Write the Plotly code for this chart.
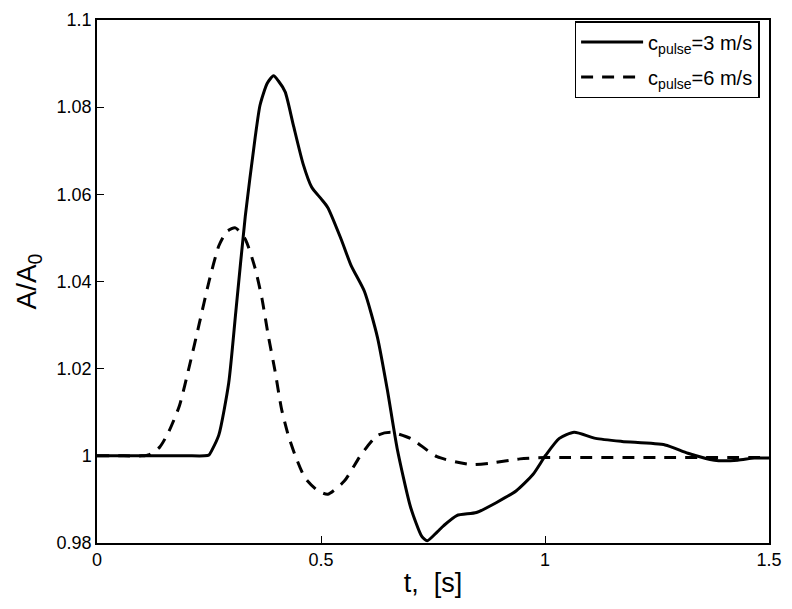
import plotly.graph_objects as go

t_solid = [0, 0.1, 0.2, 0.24, 0.25, 0.256, 0.272, 0.294, 0.31, 0.331, 0.353, 0.364, 0.38, 0.394, 0.405, 0.42, 0.438,
           0.46, 0.479, 0.5, 0.515, 0.545, 0.567, 0.597, 0.626, 0.648, 0.67, 0.7, 0.725, 0.737,
           0.759, 0.774, 0.803, 0.847, 0.892, 0.936, 0.973, 1.002, 1.032, 1.065, 1.113, 1.172,
           1.268, 1.319, 1.378, 1.43, 1.467, 1.5]
a_solid = [1.0, 1.0, 1.0, 1.0, 1.0002, 1.0012, 1.0048, 1.0167, 1.0332, 1.055, 1.073, 1.0805, 1.0855, 1.0872, 1.086,
           1.0835, 1.076, 1.067, 1.0617, 1.059, 1.057, 1.0497, 1.0437, 1.0377, 1.0272, 1.0152,
           1.0017, 0.9882, 0.9815, 0.9805, 0.9825, 0.984, 0.9863, 0.987, 0.9893, 0.992, 0.9957,
           1.0002, 1.004, 1.0054, 1.004, 1.0033, 1.0025, 1.0006, 0.999, 0.999, 0.9995, 0.9995]

t_dashed = [0, 0.06, 0.1, 0.117, 0.14, 0.16, 0.184, 0.206, 0.228, 0.25, 0.272, 0.29, 0.309, 0.331, 0.353,
            0.368, 0.383, 0.397, 0.412, 0.427, 0.442, 0.464, 0.493, 0.515, 0.552, 0.589, 0.626,
            0.656, 0.7, 0.759, 0.833, 0.877, 0.944, 1.0, 1.25, 1.5]
a_dashed = [1.0, 1.0, 1.0, 1.0003, 1.002, 1.0055, 1.0115, 1.0205, 1.0302, 1.04, 1.0482, 1.0515, 1.0523, 1.0497,
            1.043, 1.0362, 1.0272, 1.0197, 1.0107, 1.0047, 1.0002, 0.995, 0.992, 0.9912, 0.9942,
            1.0002, 1.0047, 1.0054, 1.004, 0.9998, 0.998, 0.9983, 0.9993, 0.9996, 0.9996, 0.9996]

x_ticks = [0, 0.5, 1, 1.5]
x_labels = ["0", "0.5", "1", "1.5"]
y_ticks = [0.98, 1.0, 1.02, 1.04, 1.06, 1.08, 1.1]
y_labels = ["0.98", "1", "1.02", "1.04", "1.06", "1.08", "1.1"]
names = ["c<sub>pulse</sub>=3 m/s", "c<sub>pulse</sub>=6 m/s"]

font = "Liberation Sans, Arial, Helvetica, sans-serif"

fig = go.Figure()
fig.add_trace(go.Scatter(x=t_solid, y=a_solid, mode="lines", name=names[0], legendgroup="a",
                         line=dict(color="black", width=3, shape="spline", smoothing=0.6)))
fig.add_trace(go.Scatter(x=t_dashed, y=a_dashed, mode="lines", name=names[1], legendgroup="b",
                         line=dict(color="black", width=3, dash="12px,9px", shape="spline", smoothing=0.6)))

axis_common = dict(showgrid=False, zeroline=False, showline=True, linecolor="black", linewidth=1.5,
                   mirror=True, ticks="inside", ticklen=7, tickcolor="black", tickwidth=1,
                   tickfont=dict(family=font, size=18, color="black"))

fig.update_layout(
    width=792, height=609,
    margin=dict(l=97, r=17, t=10, b=66),
    paper_bgcolor="white", plot_bgcolor="white",
    font=dict(family=font, color="black"),
    xaxis=dict(range=[0, 1.5], tickvals=x_ticks, ticktext=x_labels,
               title=dict(text="t,\u00a0 [s]", font=dict(size=27), standoff=4), **axis_common),
    yaxis=dict(range=[0.98, 1.1], tickvals=y_ticks, ticktext=y_labels,
               title=dict(text="A/A<sub>0</sub>", font=dict(size=28), standoff=12), **axis_common),
    showlegend=True,
    legend=dict(x=0.986, y=0.998, xanchor="right", yanchor="top",
                bgcolor="white", bordercolor="black", borderwidth=1.5,
                font=dict(family=font, size=20, color="black"),
                itemwidth=62, tracegroupgap=6),
)

fig.write_html("out.html")
